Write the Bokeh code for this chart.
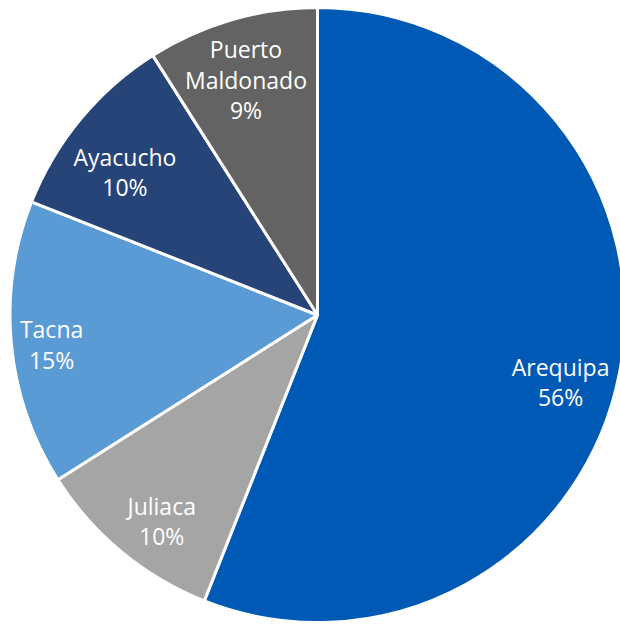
import math
from bokeh.plotting import figure
from bokeh.models import ColumnDataSource, Range1d
from bokeh.core.properties import value
from bokeh.embed import file_html
from bokeh.resources import INLINE

# --- data ---
cities = ["Arequipa", "Juliaca", "Tacna", "Ayacucho", "Puerto\nMaldonado"]
shares = [56, 10, 15, 10, 9]
colors = ["#0059B5", "#A5A5A5", "#5B9BD5", "#264478", "#636363"]

# --- style ---
W, H = 620, 624
R = 307.5
CX_PX, CY_PX = 317, 314.5          # pie centre within the figure (px from left/top)
label_radius = [0.82, 0.84, 0.87, 0.78, 0.80]
label_angle_nudge = [-4.6, 2.5, 0.9, 3.0, 0.7]   # degrees, anticlockwise
font = "Open Sans"

total = float(sum(shares))
starts, ends, lx, ly, texts = [], [], [], [], []
cum = 0.0
for i, s in enumerate(shares):
    a0 = cum / total * 360.0
    cum += s
    a1 = cum / total * 360.0
    # clockwise from top -> standard anticlockwise angles
    starts.append(math.radians(90 - a1))
    ends.append(math.radians(90 - a0))
    mid = math.radians(90 - (a0 + a1) / 2 + label_angle_nudge[i])
    r = label_radius[i] * R
    lx.append(r * math.cos(mid))
    ly.append(r * math.sin(mid))
    texts.append(f"{cities[i]}\n{round(s / total * 100)}%")

src = ColumnDataSource(dict(start=starts, end=ends, color=colors,
                            lx=lx, ly=ly, text=texts))

p = figure(width=W, height=H, output_backend="svg", toolbar_location=None,
           x_range=Range1d(-CX_PX, W - CX_PX), y_range=Range1d(CY_PX - H, CY_PX),
           x_axis_location=None, y_axis_location=None, min_border=0)
p.grid.visible = False
p.outline_line_color = None
p.background_fill_color = "white"
p.border_fill_color = "white"

p.wedge(x=0, y=0, radius=R, start_angle="start", end_angle="end",
        fill_color="color", line_color="white", line_width=3, source=src)

p.text(x="lx", y="ly", text="text", source=src, text_color="white",
       text_font=value(font), text_font_size="23px", text_align="center",
       text_baseline="middle", text_line_height=0.95)

open("out.html", "w").write(file_html(p, INLINE))
